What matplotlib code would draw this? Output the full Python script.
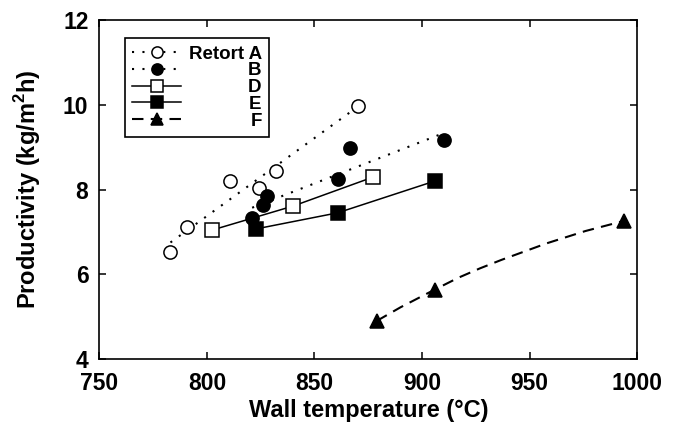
import matplotlib
matplotlib.use('Agg')
import matplotlib.pyplot as plt

plt.rcParams['font.family'] = ['Liberation Sans', 'DejaVu Sans']
plt.rcParams['font.weight'] = 'bold'
plt.rcParams['mathtext.fontset'] = 'custom'
plt.rcParams['mathtext.rm'] = 'Liberation Sans:bold'
plt.rcParams['mathtext.bf'] = 'Liberation Sans:bold'

# ---- data ----
a_x = [782.8, 790.6, 810.7, 824.2, 832.1, 870.4]
a_y = [6.53, 7.12, 8.21, 8.04, 8.44, 9.97]
a_fit_x = [783, 870]
a_fit_y = [6.75, 9.95]

b_x = [820.9, 826.2, 827.8, 860.8, 866.5, 910.4]
b_y = [7.33, 7.63, 7.84, 8.25, 8.97, 9.17]
b_fit_x = [821, 910]
b_fit_y = [7.57, 9.33]

d_x = [802.2, 840.1, 877.1]
d_y = [7.04, 7.61, 8.29]

e_x = [822.8, 860.8, 906.0]
e_y = [7.07, 7.45, 8.20]

f_x = [878.9, 906.0, 994.1]
f_y = [4.90, 5.64, 7.26]
f_curve_x = [879, 890, 906, 917, 927, 937, 958, 976, 994]
f_curve_y = [4.90, 5.22, 5.64, 5.92, 6.14, 6.34, 6.73, 7.02, 7.26]

series_labels = ['Retort A', 'B', 'D', 'E', 'F']
x_ticks = [750, 800, 850, 900, 950, 1000]
y_ticks = [4, 6, 8, 10, 12]

# ---- figure ----
fig = plt.figure(figsize=(6.81, 4.23), dpi=100)
ax = fig.add_axes([0.1461, 0.1513, 0.7893, 0.8014])

dotted = (0, (1, 4))
dashed = (0, (5.5, 3.5))
ms = 9.5
mew = 1.1

la, = ax.plot(a_fit_x, a_fit_y, color='black', lw=1.5, ls=dotted, zorder=2)
pa, = ax.plot(a_x, a_y, ls='none', marker='o', ms=ms, mfc='white', mec='black', mew=mew, zorder=3)
lb, = ax.plot(b_fit_x, b_fit_y, color='black', lw=1.5, ls=dotted, zorder=2)
pb, = ax.plot(b_x, b_y, ls='none', marker='o', ms=ms, mfc='black', mec='black', mew=mew, zorder=3)
ld, = ax.plot(d_x, d_y, color='black', lw=1.1, ls='-', marker='s', ms=ms, mfc='white', mec='black', mew=mew, zorder=3)
le, = ax.plot(e_x, e_y, color='black', lw=1.1, ls='-', marker='s', ms=ms, mfc='black', mec='black', mew=mew, zorder=3)
lf, = ax.plot(f_curve_x, f_curve_y, color='black', lw=1.5, ls=dashed, zorder=2)
pf, = ax.plot(f_x, f_y, ls='none', marker='^', ms=ms, mfc='black', mec='black', mew=mew, zorder=3)

ax.set_xlim(750, 1000)
ax.set_ylim(4, 12)
ax.set_xticks(x_ticks)
ax.set_yticks(y_ticks)
ax.tick_params(direction='in', length=5, width=1.1, top=True, right=True,
               labelsize=16.5, pad=8)
ax.tick_params(axis='x', pad=9)
for s in ax.spines.values():
    s.set_linewidth(1.2)

ax.set_xlabel('Wall temperature (°C)', fontsize=17, fontweight='bold', labelpad=3)
ax.set_ylabel(r'Productivity (kg/m$^{\mathbf{2}}$h)', fontsize=17, fontweight='bold', labelpad=14)

leg = ax.legend([(la, pa), (lb, pb), ld, le, (lf, pf)], series_labels,
                loc='upper left', bbox_to_anchor=(0.047, 0.947), borderaxespad=0,
                fancybox=False, edgecolor='black', framealpha=1,
                prop={'family': 'Liberation Sans', 'weight': 'bold', 'size': 13.5},
                handlelength=2.6, handletextpad=0.4, labelspacing=-0.02,
                borderpad=0.4, markerscale=0.85)
leg.get_frame().set_linewidth(1.2)

# right-align legend labels
fig.canvas.draw()
r = fig.canvas.get_renderer()
texts = leg.get_texts()
widths = [t.get_window_extent(r).width for t in texts]
wmax = max(widths)
for t, w in zip(texts, widths):
    t.set_position((wmax - w, 0))

fig.savefig('out.png', dpi=100)
